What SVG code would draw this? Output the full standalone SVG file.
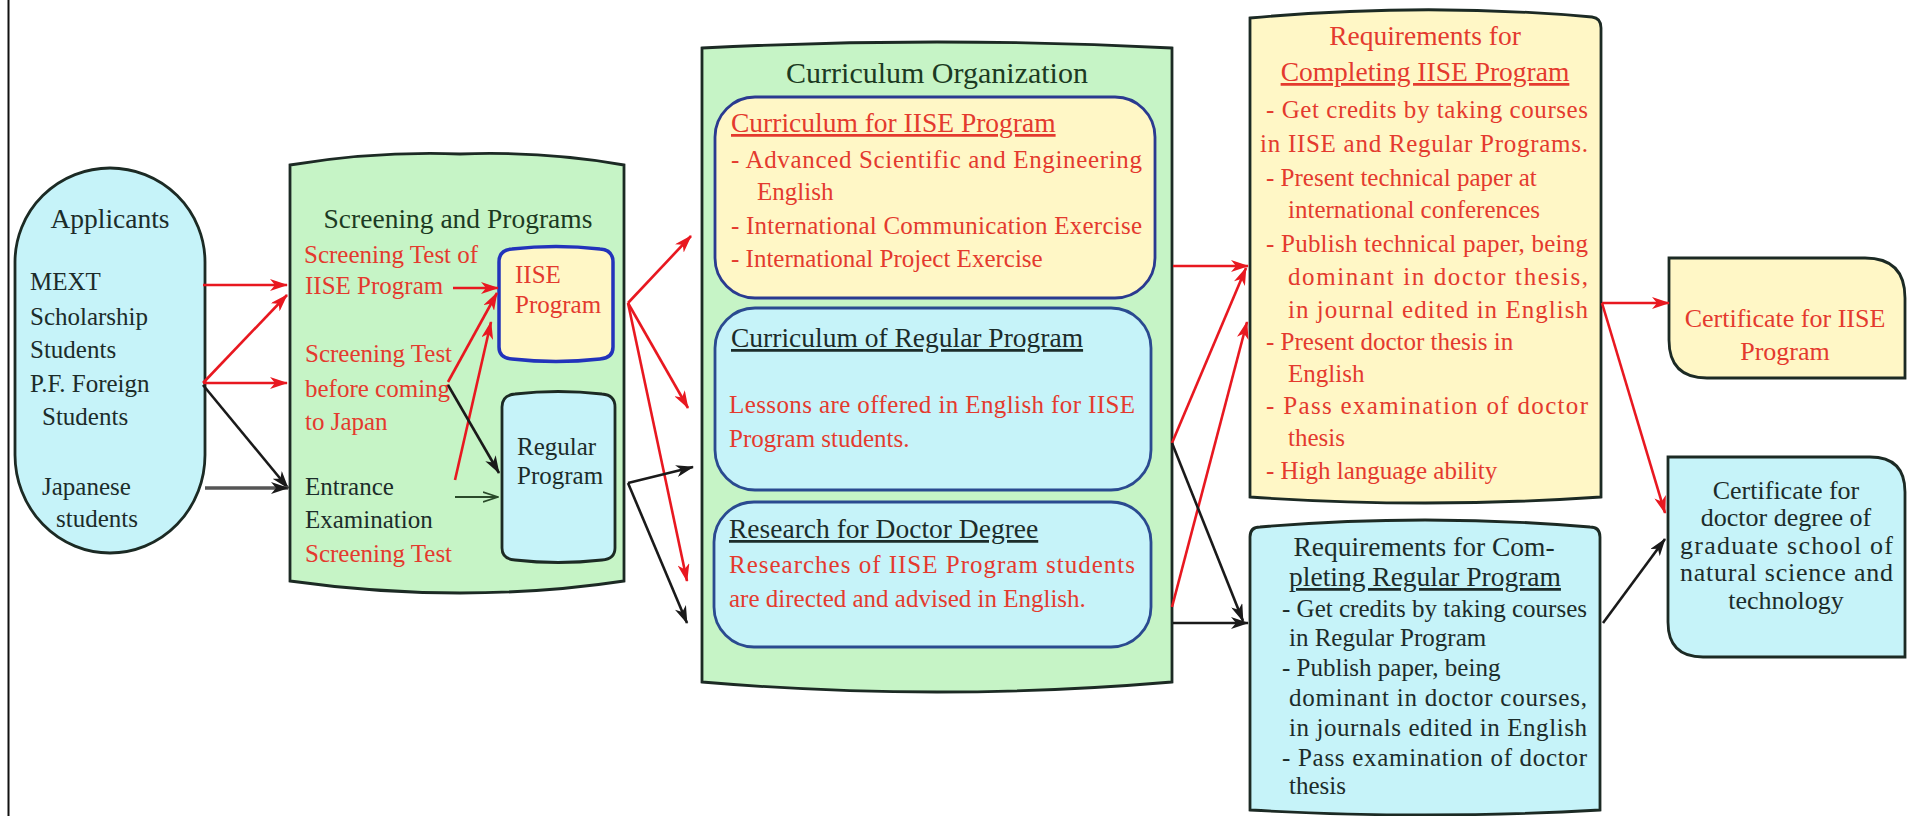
<svg xmlns="http://www.w3.org/2000/svg" width="1910" height="816" viewBox="0 0 1910 816">
<style>
.t{font-family:"Liberation Serif","Times New Roman",serif;font-size:25px}
.h{font-size:27.5px}
.big{font-size:30px}
.c26{font-size:26px}
.r{fill:#e43a2e}
.k{fill:#1c2c2a}
.g{fill:#1c3a22}
.u{text-decoration:underline}
.node{stroke:#1c2a24;stroke-width:2.8}
.cy{fill:#c6f3f9}
.yl{fill:#fff7c6}
.gn{fill:#c6f4c6}
.ar{fill:none;stroke:#e81820;stroke-width:2.6}
.ab{fill:none;stroke:#1a1a1a;stroke-width:2.6}
</style>
<defs>
<marker id="mr" viewBox="0 0 18 12" refX="17" refY="6" markerWidth="18" markerHeight="12" markerUnits="userSpaceOnUse" orient="auto">
<path d="M0,0 L18,6 L0,12 L5,6 Z" fill="#e81820"/>
</marker>
<marker id="mb" viewBox="0 0 18 12" refX="17" refY="6" markerWidth="18" markerHeight="12" markerUnits="userSpaceOnUse" orient="auto">
<path d="M0,0 L18,6 L0,12 L5,6 Z" fill="#1a1a1a"/>
</marker>
<marker id="mo" viewBox="0 0 16 12" refX="15" refY="6" markerWidth="16" markerHeight="12" markerUnits="userSpaceOnUse" orient="auto">
<path d="M0,1 L15,6 L0,11" fill="none" stroke="#2a4a2a" stroke-width="1.8"/>
</marker>
</defs>
<rect width="1910" height="816" fill="#ffffff"/>
<line x1="8.5" y1="0" x2="8.5" y2="816" stroke="#111" stroke-width="2"/>

<g id="applicants">
<path class="node cy" d="M15,262 A95,94 0 0 1 205,262 L205,455 A95,98 0 0 1 15,455 Z"/>
<text class="t h k" x="110" y="228" text-anchor="middle">Applicants</text>
<text class="t k" x="30" y="290">MEXT</text>
<text class="t k" x="30" y="325">Scholarship</text>
<text class="t k" x="30" y="358">Students</text>
<text class="t k" x="30" y="392">P.F. Foreign</text>
<text class="t k" x="42" y="425">Students</text>
<text class="t k" x="42" y="495">Japanese</text>
<text class="t k" x="56" y="527">students</text>
</g>

<g id="screening">
<path class="node gn" d="M290,165 Q375,151 460,154 Q545,151 624,165 L624,581 Q545,593 460,593 Q375,593 290,581 Z"/>
<text class="t h g" x="458" y="228" text-anchor="middle">Screening and Programs</text>
<text class="t r" x="304" y="263">Screening Test of</text>
<text class="t r" x="305" y="294">IISE Program</text>
<text class="t r" x="305" y="362">Screening Test</text>
<text class="t r" x="305" y="397">before coming</text>
<text class="t r" x="305" y="430">to Japan</text>
<text class="t k" x="305" y="495">Entrance</text>
<text class="t k" x="305" y="528">Examination</text>
<text class="t r" x="305" y="562">Screening Test</text>
</g>

<g id="iise-program">
<path class="yl" stroke="#2233bb" stroke-width="3.5" d="M499,262 Q499,250 512,249 Q556,244 600,249 Q613,250 613,262 L613,347 Q613,358 600,359 Q556,364 512,359 Q499,358 499,347 Z"/>
<text class="t r" x="515" y="283">IISE</text>
<text class="t r" x="515" y="313">Program</text>
</g>

<g id="regular-program">
<path class="node cy" d="M502,407 Q502,395 515,394 Q558,389 602,394 Q615,395 615,407 L615,548 Q615,559 602,560 Q558,565 515,560 Q502,559 502,548 Z"/>
<text class="t k" x="517" y="455">Regular</text>
<text class="t k" x="517" y="484">Program</text>
</g>

<g id="curriculum">
<path class="node gn" d="M702,48 Q937,36 1172,48 L1172,682 Q937,702 702,682 Z"/>
<text class="t big g" x="937" y="83" text-anchor="middle">Curriculum Organization</text>
</g>

<g id="curriculum-iise">
<rect class="yl" stroke="#2a3a90" stroke-width="2.8" x="715" y="97" width="440" height="201" rx="40" ry="40"/>
<text class="t h r u" x="731" y="132">Curriculum for IISE Program</text>
<text class="t r" x="731" y="168" textLength="411" lengthAdjust="spacing">- Advanced Scientific and Engineering</text>
<text class="t r" x="757" y="200">English</text>
<text class="t r" x="731" y="234" textLength="411" lengthAdjust="spacing">- International Communication Exercise</text>
<text class="t r" x="731" y="267">- International Project Exercise</text>
</g>

<g id="curriculum-regular">
<rect class="cy" stroke="#2a4a90" stroke-width="2.8" x="715" y="308" width="436" height="182" rx="40" ry="40"/>
<text class="t h k u" x="731" y="347">Curriculum of Regular Program</text>
<text class="t r" x="729" y="413" textLength="406" lengthAdjust="spacing">Lessons are offered in English for IISE</text>
<text class="t r" x="729" y="447">Program students.</text>
</g>

<g id="research">
<rect class="cy" stroke="#2a4a90" stroke-width="2.8" x="714" y="502" width="437" height="145" rx="40" ry="40"/>
<text class="t h k u" x="729" y="538">Research for Doctor Degree</text>
<text class="t r" x="729" y="573" textLength="406" lengthAdjust="spacing">Researches of IISE Program students</text>
<text class="t r" x="729" y="607">are directed and advised in English.</text>
</g>

<g id="req-iise">
<path class="node yl" d="M1250,18 Q1425,2 1592,17 Q1601,18 1601,28 L1601,497 Q1425,509 1250,497 Z"/>
<text class="t h r" x="1425" y="45" text-anchor="middle">Requirements for</text>
<text class="t h r u" x="1425" y="81" text-anchor="middle">Completing IISE Program</text>
<text class="t r" x="1266" y="118" textLength="322" lengthAdjust="spacing">- Get credits by taking courses</text>
<text class="t r" x="1260" y="152" textLength="328" lengthAdjust="spacing">in IISE and Regular Programs.</text>
<text class="t r" x="1266" y="186">- Present technical paper at</text>
<text class="t r" x="1288" y="218">international conferences</text>
<text class="t r" x="1266" y="252" textLength="322" lengthAdjust="spacing">- Publish technical paper, being</text>
<text class="t r" x="1288" y="285" textLength="300" lengthAdjust="spacing">dominant in doctor thesis,</text>
<text class="t r" x="1288" y="318" textLength="300" lengthAdjust="spacing">in journal edited in English</text>
<text class="t r" x="1266" y="350">- Present doctor thesis in</text>
<text class="t r" x="1288" y="382">English</text>
<text class="t r" x="1266" y="414" textLength="322" lengthAdjust="spacing">- Pass examination of doctor</text>
<text class="t r" x="1288" y="446">thesis</text>
<text class="t r" x="1266" y="479">- High language ability</text>
</g>

<g id="req-regular">
<path class="node cy" d="M1250,537 Q1250,527 1260,527 Q1425,513 1590,527 Q1600,527 1600,537 L1600,810 Q1425,820 1250,810 Z"/>
<text class="t h k" x="1424" y="556" text-anchor="middle">Requirements for Com-</text>
<text class="t h k u" x="1425" y="586" text-anchor="middle">pleting Regular Program</text>
<text class="t k" x="1282" y="617" textLength="305" lengthAdjust="spacing">- Get credits by taking courses</text>
<text class="t k" x="1289" y="646">in Regular Program</text>
<text class="t k" x="1282" y="676">- Publish paper, being</text>
<text class="t k" x="1289" y="706" textLength="298" lengthAdjust="spacing">dominant in doctor courses,</text>
<text class="t k" x="1289" y="736" textLength="298" lengthAdjust="spacing">in journals edited in English</text>
<text class="t k" x="1282" y="766" textLength="305" lengthAdjust="spacing">- Pass examination of doctor</text>
<text class="t k" x="1289" y="794">thesis</text>
</g>

<g id="cert-iise">
<path class="node yl" d="M1669,258 L1865,258 Q1905,258 1905,298 L1905,378 L1707,378 Q1669,378 1669,340 Z"/>
<text class="t c26 r" x="1785" y="327" text-anchor="middle">Certificate for IISE</text>
<text class="t c26 r" x="1785" y="360" text-anchor="middle">Program</text>
</g>

<g id="cert-doctor">
<path class="node cy" d="M1668,457 L1870,457 Q1905,457 1905,492 L1905,657 L1703,657 Q1668,657 1668,622 Z"/>
<text class="t c26 k" x="1786" y="499" text-anchor="middle">Certificate for</text>
<text class="t c26 k" x="1786" y="526" text-anchor="middle">doctor degree of</text>
<text class="t c26 k" x="1680" y="554" textLength="213" lengthAdjust="spacing">graduate school of</text>
<text class="t c26 k" x="1680" y="581" textLength="213" lengthAdjust="spacing">natural science and</text>
<text class="t c26 k" x="1786" y="609" text-anchor="middle">technology</text>
</g>

<g id="connectors">
<line class="ar" x1="203" y1="285" x2="287" y2="285" marker-end="url(#mr)"/>
<line class="ar" x1="203" y1="383" x2="287" y2="295" marker-end="url(#mr)"/>
<line class="ar" x1="203" y1="383" x2="287" y2="383" marker-end="url(#mr)"/>
<line class="ab" x1="203" y1="385" x2="288" y2="488" marker-end="url(#mb)"/>
<line stroke="#555" stroke-width="3.5" x1="205" y1="488" x2="288" y2="488" marker-end="url(#mb)"/>
<line class="ar" x1="453" y1="288" x2="498" y2="288" marker-end="url(#mr)"/>
<line class="ar" x1="448" y1="382" x2="497" y2="293" marker-end="url(#mr)"/>
<line class="ar" x1="455" y1="480" x2="491" y2="322" marker-end="url(#mr)"/>
<line class="ab" x1="448" y1="385" x2="499" y2="473" marker-end="url(#mb)"/>
<line stroke="#2a4a2a" stroke-width="1.8" x1="455" y1="497" x2="498" y2="497" marker-end="url(#mo)"/>
<line class="ar" x1="628" y1="303" x2="691" y2="236" marker-end="url(#mr)"/>
<line class="ar" x1="628" y1="303" x2="688" y2="408" marker-end="url(#mr)"/>
<line class="ar" x1="628" y1="303" x2="687" y2="581" marker-end="url(#mr)"/>
<line class="ab" x1="628" y1="483" x2="693" y2="467" marker-end="url(#mb)"/>
<line class="ab" x1="628" y1="483" x2="687" y2="623" marker-end="url(#mb)"/>
<line class="ar" x1="1173" y1="266" x2="1248" y2="266" marker-end="url(#mr)"/>
<line class="ar" x1="1172" y1="443" x2="1246" y2="268" marker-end="url(#mr)"/>
<line class="ar" x1="1172" y1="607" x2="1247" y2="322" marker-end="url(#mr)"/>
<line class="ab" x1="1172" y1="443" x2="1243" y2="621" marker-end="url(#mb)"/>
<line class="ab" x1="1173" y1="623" x2="1248" y2="623" marker-end="url(#mb)"/>
<line class="ar" x1="1602" y1="303" x2="1669" y2="303" marker-end="url(#mr)"/>
<line class="ar" x1="1602" y1="303" x2="1665" y2="513" marker-end="url(#mr)"/>
<line class="ab" x1="1603" y1="623" x2="1665" y2="539" marker-end="url(#mb)"/>
</g>
</svg>
